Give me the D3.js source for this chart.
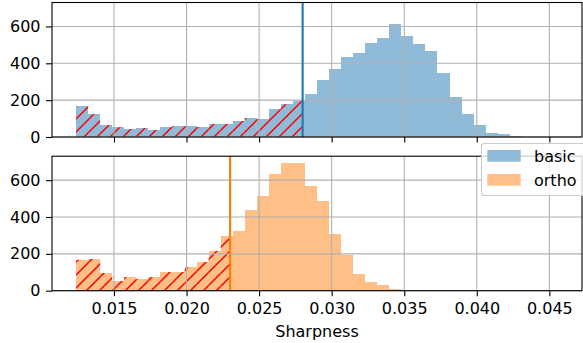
<!DOCTYPE html>
<html>
<head>
<meta charset="utf-8">
<script src="https://cdn.jsdelivr.net/npm/d3@7"></script>
<style>
  html, body { margin: 0; padding: 0; background: #fff; }
  svg { display: block; font-family: "DejaVu Sans", sans-serif; }
</style>
</head>
<body>
<svg id="chart" width="583" height="343"></svg>
<script>
// ---- data ----
const binStart = 0.01239;
const binWidth = 0.00083;
const basicCounts = [168,124,65,53,43,49,38,54,59,59,54,71,71,86,103,97,151,178,198,232,
                     308,368,432,454,508,535,616,546,503,465,346,216,124,65,22,16,5,1,0,1];
const orthoCounts = [168,172,96,53,74,63,74,101,101,126,156,216,297,324,438,514,634,694,694,569,
                     487,308,194,91,47,31,9,4,0,0,0,0,0,0,0,0,0,0,0,0];
const basicThreshold = 0.0280;
const orthoThreshold = 0.0230;
const xTicks = [0.015, 0.020, 0.025, 0.030, 0.035, 0.040, 0.045];
const yTicks = [0, 200, 400, 600];
const seriesNames = ["basic", "ortho"];
const xLabel = "Sharpness";

// ---- layout ----
const left = 52, right = 582;
const FS = "16px";
const panels = [
  { top: 2.5, bottom: 137, counts: basicCounts, thr: basicThreshold, fill: "#8fbbd9", line: "#1f77b4", id: "p0" },
  { top: 156.2, bottom: 290.7, counts: orthoCounts, thr: orthoThreshold, fill: "#ffbf86", line: "#ff7f0e", id: "p1" }
];

const nb = basicCounts.length;
const edges = d3.range(nb + 1).map(i => binStart + i * binWidth);
const span = edges[nb] - edges[0];
const x = d3.scaleLinear().domain([edges[0] - 0.05 * span, edges[nb] + 0.05 * span]).range([left, right]);

const svg = d3.select("#chart");
const defs = svg.append("defs");
const hp = 13;
const pat = defs.append("pattern").attr("id", "hatch").attr("patternUnits", "userSpaceOnUse")
  .attr("width", hp).attr("height", hp);
pat.append("path")
  .attr("d", `M0,${hp} L${hp},0 M${-hp/2},${hp/2} L${hp/2},${-hp/2} M${hp/2},${hp*1.5} L${hp*1.5},${hp/2}`)
  .attr("stroke", "#ff0000").attr("stroke-width", 1.5).attr("fill", "none");

panels.forEach((p, pi) => {
  const y = d3.scaleLinear().domain([0, 730]).range([p.bottom, p.top]);
  const g = svg.append("g");

  defs.append("clipPath").attr("id", "clip" + p.id).append("rect")
    .attr("x", left).attr("y", p.top).attr("width", x(p.thr) - left).attr("height", p.bottom - p.top);

  const bins = p.counts.map((c, i) => ({ x0: edges[i], x1: edges[i + 1], c }));

  g.append("g").selectAll("rect").data(bins).join("rect")
    .attr("x", d => x(d.x0)).attr("width", d => x(d.x1) - x(d.x0))
    .attr("y", d => y(d.c)).attr("height", d => y(0) - y(d.c))
    .attr("fill", p.fill).attr("shape-rendering", "crispEdges");

  g.append("g").attr("clip-path", `url(#clip${p.id})`).selectAll("rect").data(bins.filter(d => d.c > 0)).join("rect")
    .attr("x", d => x(d.x0)).attr("width", d => x(d.x1) - x(d.x0))
    .attr("y", d => y(d.c)).attr("height", d => y(0) - y(d.c))
    .attr("fill", "url(#hatch)");

  // grid
  g.append("g").selectAll("line").data(xTicks).join("line")
    .attr("x1", d => x(d)).attr("x2", d => x(d)).attr("y1", p.top).attr("y2", p.bottom)
    .attr("stroke", "#b0b0b0").attr("stroke-width", 1.1);
  g.append("g").selectAll("line").data(yTicks).join("line")
    .attr("x1", left).attr("x2", right).attr("y1", d => y(d)).attr("y2", d => y(d))
    .attr("stroke", "#b0b0b0").attr("stroke-width", 1.1);

  // threshold line
  g.append("line").attr("x1", x(p.thr)).attr("x2", x(p.thr)).attr("y1", p.top).attr("y2", p.bottom)
    .attr("stroke", p.line).attr("stroke-width", 2.1);

  // axes
  const xa = g.append("g").attr("transform", `translate(0,${p.bottom})`)
    .call(d3.axisBottom(x).tickValues(xTicks).tickSize(5.5).tickPadding(6.5).tickFormat(pi === 1 ? d3.format(".3f") : () => ""));
  const ya = g.append("g").attr("transform", `translate(${left},0)`)
    .call(d3.axisLeft(y).tickValues(yTicks).tickSize(6).tickPadding(5.5).tickFormat(d3.format("d")));
  [xa, ya].forEach(a => {
    a.select(".domain").remove();
    a.selectAll(".tick line").attr("stroke", "#000").attr("stroke-width", 1.1);
    a.selectAll(".tick text").attr("fill", "#000").style("font-size", FS).style("font-family", "DejaVu Sans");
  });

  g.append("rect").attr("x", left).attr("y", p.top).attr("width", right - left).attr("height", p.bottom - p.top)
    .attr("fill", "none").attr("stroke", "#000").attr("stroke-width", 1.1);
});

svg.append("text").attr("x", (left + right) / 2).attr("y", 337).attr("text-anchor", "middle")
  .style("font-size", FS).attr("fill", "#000").text(xLabel);

// legend
const lg = svg.append("g");
lg.append("rect").attr("x", 481.5).attr("y", 143.5).attr("width", 120).attr("height", 52).attr("rx", 3)
  .attr("fill", "#fff").attr("fill-opacity", 0.8).attr("stroke", "#cccccc").attr("stroke-width", 1.1);
const legColors = ["#8fbbd9", "#ffbf86"];
seriesNames.forEach((name, i) => {
  lg.append("rect").attr("x", 487.3).attr("y", 150 + i * 24).attr("width", 33.4).attr("height", 11.7).attr("fill", legColors[i]);
  lg.append("text").attr("x", 534).attr("y", 161.5 + i * 24).style("font-size", FS).attr("fill", "#000").text(name);
});
</script>
</body>
</html>
